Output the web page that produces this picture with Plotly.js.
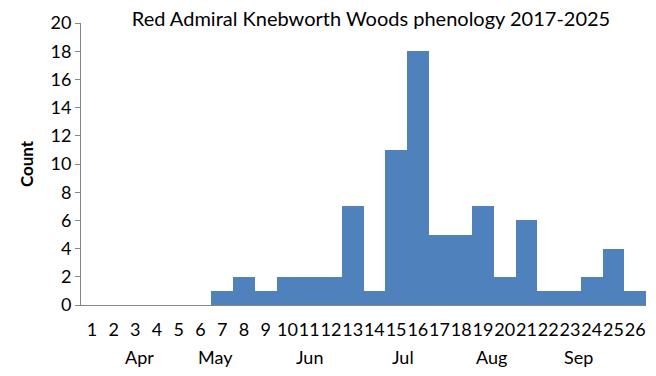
<!DOCTYPE html>
<html><head><meta charset="utf-8">
<script src="https://cdn.plot.ly/plotly-3.0.1.min.js"></script>
<style>html,body{margin:0;padding:0;background:#fff}#chart{width:656px;height:376px}</style>
</head><body><div id="chart"></div>
<script>
// Data
const weeks = [1,2,3,4,5,6,7,8,9,10,11,12,13,14,15,16,17,18,19,20,21,22,23,24,25,26];
const counts = [0,0,0,0,0,0,1,2,1,2,2,2,7,1,11,18,5,5,7,2,6,1,1,2,4,1];
const months = ["Apr","May","Jun","Jul","Aug","Sep"];
const monthWeekPos = [3.2, 6.7, 11, 15.3, 19.4, 23.4];

const FONT = "Lato, 'Open Sans', sans-serif";
const annotations = months.map((m,i)=>({
  text: m, x: monthWeekPos[i], xref: 'x', y: -0.184, yref: 'paper',
  showarrow: false, xanchor: 'center', yanchor: 'middle',
  font: {family: FONT, size: 18, color: '#000'}
}));

Plotly.newPlot('chart', [{
  type: 'bar', x: weeks, y: counts,
  marker: {color: '#4F81BD', line: {width: 0}},
  hoverinfo: 'none'
}], {
  width: 656, height: 376,
  margin: {l: 81, r: 10, t: 23, b: 71},
  paper_bgcolor: '#fff', plot_bgcolor: '#fff',
  bargap: 0,
  showlegend: false,
  title: {text: 'Red Admiral Knebworth Woods phenology 2017-2025',
    font: {family: FONT, size: 20, color: '#000'},
    x: 371/656, xref: 'container', xanchor: 'center',
    y: 1 - 19/376, yref: 'container', yanchor: 'middle'},
  xaxis: {
    type: 'linear', range: [0.5, 26.5], tickmode: 'array', tickvals: weeks,
    ticktext: weeks.map(String), tickangle: 0,
    showgrid: false, zeroline: false, showline: true, linecolor: '#868686', linewidth: 1,
    ticks: 'outside', ticklen: 8, tickcolor: 'rgba(0,0,0,0)',
    tickfont: {family: FONT, size: 18, color: '#000'}, fixedrange: true
  },
  yaxis: {
    range: [0, 20], dtick: 2, tick0: 0,
    showgrid: false, zeroline: false, showline: true, linecolor: '#868686', linewidth: 1,
    ticks: 'outside', ticklen: 5, tickcolor: '#868686',
    tickfont: {family: FONT, size: 18, color: '#000'},
    title: {text: '<b>Count</b>', font: {family: FONT, size: 17, color: '#000'}, standoff: 12},
    fixedrange: true
  },
  annotations: annotations
}, {staticPlot: true});
</script></body></html>
